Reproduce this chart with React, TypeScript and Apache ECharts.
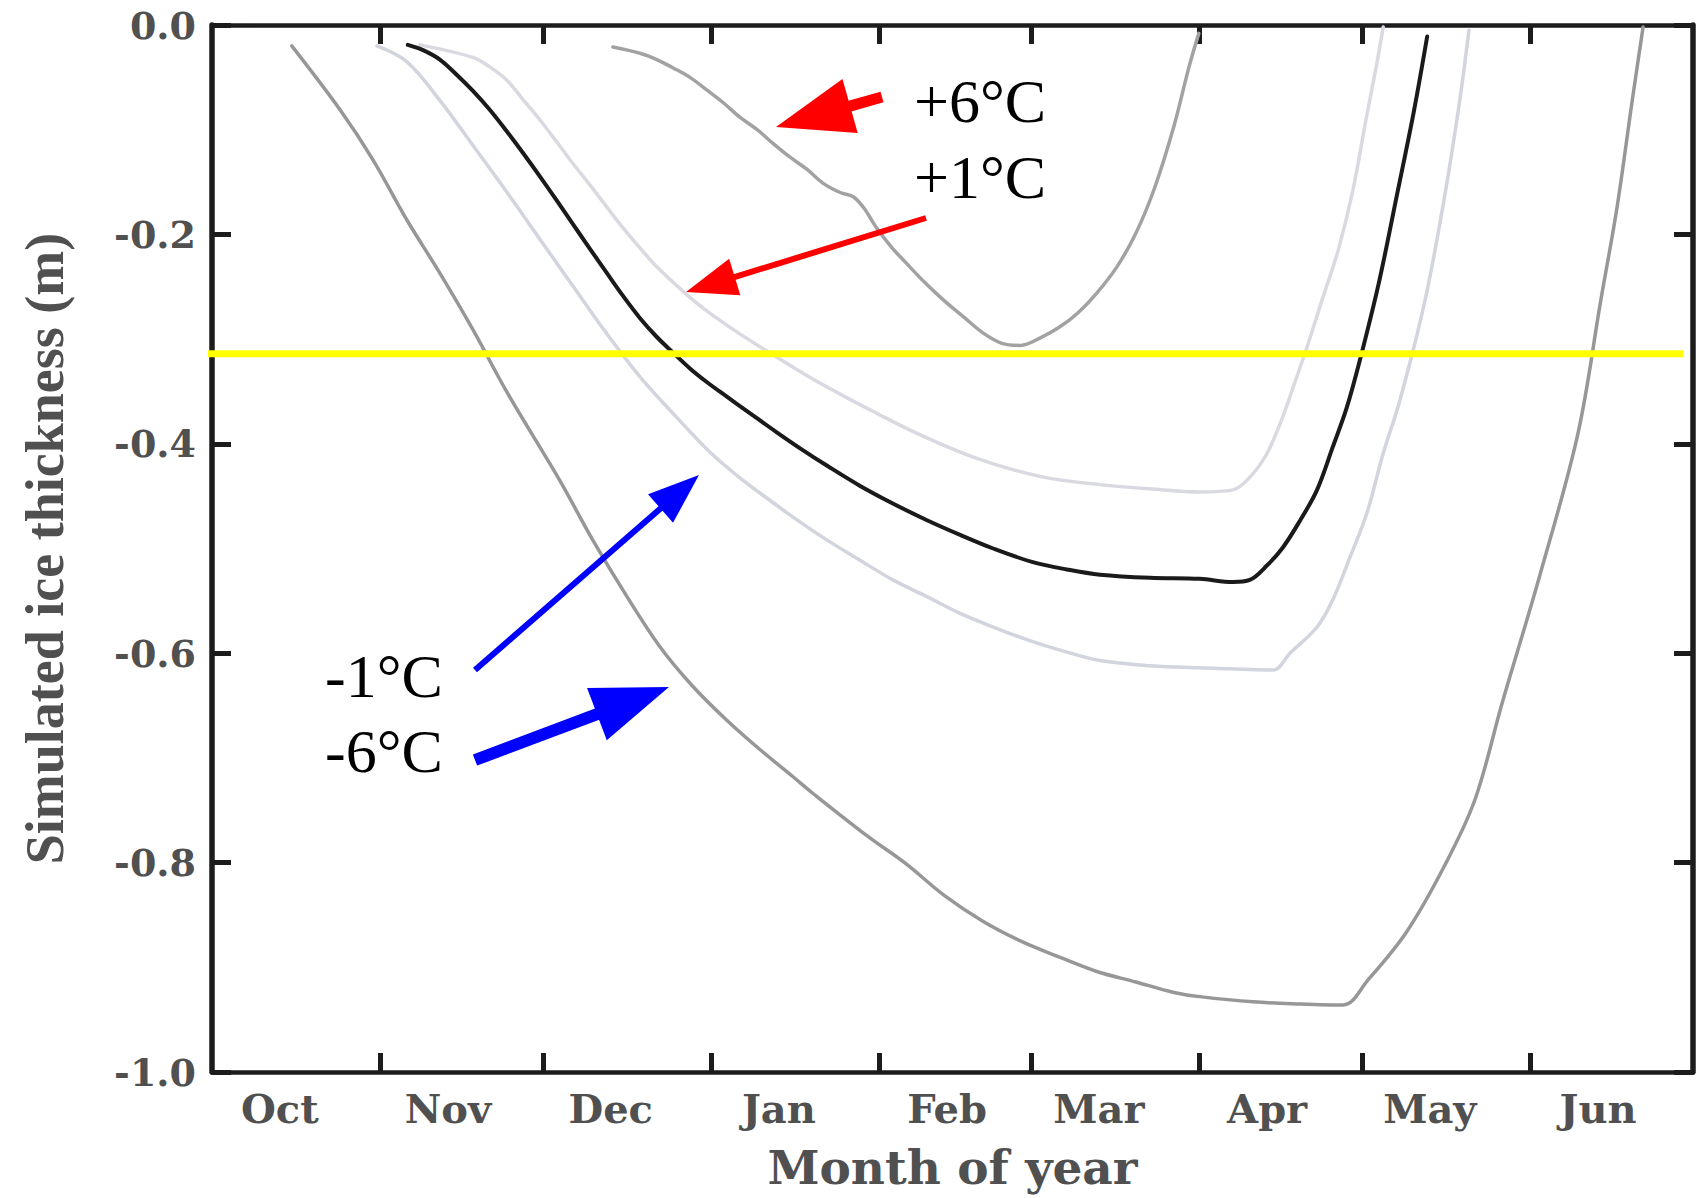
import React, { useEffect, useRef } from "react";
import * as echarts from "echarts";

// ---------- axis data ----------
const monthNames = ["Oct", "Nov", "Dec", "Jan", "Feb", "Mar", "Apr", "May", "Jun"];
const monthStartDays = [0, 31, 61, 92, 123, 151, 182, 212, 243];
const monthTickDays = monthStartDays.slice(1);
const monthLabelDays = monthStartDays.map((d) => d + 12.5);
const xMinDay = 0;
const xMaxDay = 273;
const yMin = -1.0;
const yMax = 0.0;
const yStep = 0.2;

// ---------- series data (day counted from 1 Oct, ice thickness in m) ----------
const minus6Days = [14.7, 23.6, 29.7, 35.9, 42.0, 48.1, 54.4, 64.1, 70.2, 76.5, 82.6, 88.7, 94.9, 101.0, 107.1, 110.8, 120.9, 127.9, 134.9, 142.1, 149.1, 156.1, 163.1, 170.3, 177.3, 182.1, 191.9, 200.6, 208.5, 213.1, 220.1, 227.1, 232.8, 237.8, 244.8, 251.8, 256.0, 259.0, 261.8, 263.8];
const minus6Ice = [-0.020, -0.081, -0.129, -0.186, -0.237, -0.291, -0.351, -0.435, -0.492, -0.546, -0.594, -0.632, -0.664, -0.692, -0.718, -0.734, -0.775, -0.801, -0.831, -0.856, -0.875, -0.890, -0.904, -0.914, -0.924, -0.928, -0.933, -0.935, -0.936, -0.912, -0.867, -0.804, -0.740, -0.648, -0.525, -0.390, -0.263, -0.174, -0.072, -0.002];

const minus1Days = [30.4, 35.9, 42.0, 48.1, 54.4, 60.5, 66.5, 72.8, 78.9, 85.7, 91.8, 97.9, 101.0, 107.1, 113.4, 119.4, 125.5, 131.8, 137.9, 144.0, 150.2, 156.3, 163.7, 172.9, 182.1, 195.6, 198.7, 203.7, 206.6, 209.8, 212.9, 215.9, 219.0, 223.6, 227.1, 230.0, 231.7];
const minus1Ice = [-0.020, -0.035, -0.072, -0.115, -0.160, -0.205, -0.249, -0.295, -0.336, -0.375, -0.408, -0.435, -0.447, -0.470, -0.492, -0.511, -0.530, -0.546, -0.562, -0.575, -0.587, -0.597, -0.607, -0.612, -0.614, -0.616, -0.600, -0.575, -0.549, -0.508, -0.466, -0.409, -0.358, -0.263, -0.167, -0.072, -0.005];

const controlDays = [36.1, 38.9, 42.0, 45.2, 48.1, 51.2, 54.4, 57.3, 60.5, 63.6, 66.5, 69.7, 72.8, 75.8, 78.9, 82.0, 85.0, 88.1, 91.2, 94.9, 99.2, 104.1, 108.9, 113.4, 119.4, 125.5, 131.8, 137.9, 144.0, 151.3, 157.6, 163.7, 172.9, 182.1, 188.2, 191.3, 194.5, 197.4, 200.6, 203.7, 206.6, 209.2, 211.6, 215.1, 218.6, 221.6, 224.0];
const controlIce = [-0.019, -0.024, -0.033, -0.048, -0.063, -0.081, -0.102, -0.122, -0.145, -0.168, -0.190, -0.214, -0.237, -0.259, -0.280, -0.298, -0.313, -0.328, -0.341, -0.355, -0.371, -0.389, -0.406, -0.421, -0.440, -0.457, -0.473, -0.487, -0.500, -0.513, -0.520, -0.525, -0.528, -0.529, -0.532, -0.530, -0.516, -0.499, -0.473, -0.444, -0.403, -0.365, -0.320, -0.246, -0.158, -0.081, -0.011];

const plus1Days = [38.3, 48.1, 51.2, 54.4, 57.3, 60.5, 63.6, 66.5, 69.7, 72.8, 75.8, 78.9, 82.0, 87.6, 91.2, 97.3, 103.4, 109.7, 116.3, 122.6, 128.7, 134.7, 141.0, 147.1, 154.5, 163.7, 172.9, 182.1, 188.2, 191.3, 194.5, 197.4, 199.3, 201.7, 204.6, 207.6, 210.3, 212.7, 214.6, 215.9];
const plus1Ice = [-0.019, -0.031, -0.040, -0.053, -0.071, -0.091, -0.112, -0.132, -0.153, -0.174, -0.194, -0.213, -0.231, -0.258, -0.273, -0.295, -0.315, -0.335, -0.354, -0.371, -0.387, -0.401, -0.414, -0.424, -0.433, -0.439, -0.443, -0.446, -0.444, -0.432, -0.409, -0.374, -0.346, -0.310, -0.263, -0.215, -0.158, -0.091, -0.040, -0.002];

const plus6Days = [73.9, 78.9, 82.0, 85.0, 88.1, 91.2, 94.2, 97.3, 100.5, 103.4, 106.5, 109.7, 112.6, 115.8, 118.2, 120.2, 122.4, 125.2, 127.9, 131.4, 134.9, 138.6, 142.1, 145.6, 149.1, 152.6, 156.1, 159.6, 163.1, 166.8, 170.3, 173.8, 177.3, 180.1, 181.9];
const plus6Ice = [-0.021, -0.027, -0.033, -0.041, -0.050, -0.062, -0.074, -0.088, -0.100, -0.113, -0.126, -0.138, -0.151, -0.160, -0.164, -0.175, -0.193, -0.212, -0.227, -0.246, -0.263, -0.279, -0.294, -0.304, -0.306, -0.299, -0.289, -0.275, -0.256, -0.231, -0.199, -0.155, -0.097, -0.040, -0.008];

// reference level (yellow line)
const yellowLevel = -0.314;
const yellowSpanDays = [-2.0, 271.3];

// ---------- annotations (pixel layout) ----------
const annotationTexts = [
  { text: "+6°C", x: 914, y: 101 },
  { text: "+1°C", x: 914, y: 177 },
  { text: "-1°C", x: 325, y: 676 },
  { text: "-6°C", x: 325, y: 751 },
];
const arrows = [
  { tail: [882, 97], tip: [776, 127], headLen: 77, headWidth: 56, shaft: 11, color: "#ff0000" },
  { tail: [926, 218], tip: [686, 292], headLen: 51, headWidth: 38, shaft: 6, color: "#ff0000" },
  { tail: [475, 670], tip: [699, 475], headLen: 51, headWidth: 38, shaft: 6, color: "#0000ff" },
  { tail: [475, 760], tip: [669, 687], headLen: 77, headWidth: 56, shaft: 12, color: "#0000ff" },
];

const pairs = (days: number[], ice: number[]) => days.map((d, i) => [d, ice[i]]);

function arrowElements(a: any) {
  const dx = a.tip[0] - a.tail[0];
  const dy = a.tip[1] - a.tail[1];
  const len = Math.hypot(dx, dy);
  const ux = dx / len;
  const uy = dy / len;
  const bx = a.tip[0] - ux * a.headLen;
  const by = a.tip[1] - uy * a.headLen;
  const px = -uy;
  const py = ux;
  const hw = a.headWidth / 2;
  return [
    {
      type: "line",
      z: 100,
      shape: { x1: a.tail[0], y1: a.tail[1], x2: bx + ux * 3, y2: by + uy * 3 },
      style: { stroke: a.color, lineWidth: a.shaft },
    },
    {
      type: "polygon",
      z: 100,
      shape: {
        points: [
          [a.tip[0], a.tip[1]],
          [bx + px * hw, by + py * hw],
          [bx - px * hw, by - py * hw],
        ],
      },
      style: { fill: a.color },
    },
  ];
}

const frameColor = "#1c1c1c";
const labelColor = "#505050";

export default function App() {
  const ref = useRef<HTMLDivElement>(null);

  useEffect(() => {
    document.body.style.margin = "0";
    document.body.style.overflow = "hidden";
    if (!ref.current) return;
    const chart = echarts.init(ref.current, null, { renderer: "svg" });

    const lineSeries = (name: string, data: number[][], color: string, width: number, z: number) => ({
      type: "line",
      name,
      data,
      symbol: "none",
      showSymbol: false,
      smooth: 0.35,
      lineStyle: { color, width, join: "round", cap: "round" },
      z,
      silent: true,
    });

    const xCommon = {
      type: "value",
      min: xMinDay,
      max: xMaxDay,
      splitLine: { show: false },
      axisLine: { show: true, onZero: false, lineStyle: { color: frameColor, width: 4.5 } },
      axisTick: {
        show: true,
        inside: true,
        length: 19,
        customValues: monthTickDays,
        lineStyle: { color: frameColor, width: 5 },
      },
    };
    const yCommon = {
      type: "value",
      min: yMin,
      max: yMax,
      interval: yStep,
      splitLine: { show: false },
      axisLine: { show: true, onZero: false, lineStyle: { color: frameColor, width: 5.5 } },
      axisTick: { show: true, inside: true, length: 19, lineStyle: { color: frameColor, width: 5 } },
    };

    const option: any = {
      animation: false,
      backgroundColor: "#ffffff",
      grid: {
        left: 212,
        right: 6,
        top: 25,
        bottom: 126,
        containLabel: false,
        outerBoundsMode: "none",
      },
      xAxis: [
        {
          ...xCommon,
          position: "bottom",
          axisLabel: {
            show: true,
            customValues: monthLabelDays,
            formatter: (v: number) => {
              const i = monthLabelDays.findIndex((d) => Math.abs(d - v) < 0.01);
              return i >= 0 ? monthNames[i] : "";
            },
            margin: 16,
            color: labelColor,
            fontFamily: "DejaVu Serif",
            fontWeight: "bold",
            fontSize: 40,
          },
          name: "Month of year",
          nameLocation: "middle",
          nameGap: 72,
          nameTextStyle: {
            color: labelColor,
            fontFamily: "DejaVu Serif",
            fontWeight: "bold",
            fontSize: 47,
          },
        },
        {
          ...xCommon,
          position: "top",
          axisLabel: { show: false },
        },
      ],
      yAxis: [
        {
          ...yCommon,
          position: "left",
          axisLabel: {
            show: true,
            formatter: (v: number) => v.toFixed(1),
            margin: 16,
            color: labelColor,
            fontFamily: "DejaVu Serif",
            fontWeight: "bold",
            fontSize: 38,
          },
          name: "Simulated ice thickness (m)",
          nameLocation: "middle",
          nameGap: 140,
          nameTextStyle: {
            color: labelColor,
            fontFamily: "Liberation Serif",
            fontWeight: "bold",
            fontSize: 54,
          },
        },
        {
          ...yCommon,
          position: "right",
          axisLabel: { show: false },
        },
      ],
      series: [
        lineSeries("-1°C", pairs(minus1Days, minus1Ice), "#d2d4de", 3.5, 2),
        lineSeries("+1°C", pairs(plus1Days, plus1Ice), "#d9dae1", 3.5, 2),
        lineSeries("-6°C", pairs(minus6Days, minus6Ice), "#979797", 3.5, 3),
        lineSeries("+6°C", pairs(plus6Days, plus6Ice), "#a2a2a2", 3.5, 3),
        lineSeries("0°C", pairs(controlDays, controlIce), "#1a1a1a", 4, 4),
        {
          type: "line",
          name: "level",
          data: yellowSpanDays.map((d) => [d, yellowLevel]),
          symbol: "none",
          showSymbol: false,
          clip: false,
          lineStyle: { color: "#ffff00", width: 7 },
          z: 10,
          silent: true,
        },
      ],
      graphic: [
        ...arrows.flatMap((a) => arrowElements(a)),
        ...annotationTexts.map((t) => ({
          type: "text",
          z: 101,
          x: t.x,
          y: t.y,
          style: {
            text: t.text,
            fill: "#000000",
            font: '62px "Liberation Serif"',
            fontSize: 62,
            fontFamily: "Liberation Serif",
            verticalAlign: "middle",
            textVerticalAlign: "middle",
            align: "left",
            textAlign: "left",
          },
        })),
      ],
    };

    chart.setOption(option);
    return () => {
      chart.dispose();
    };
  }, []);

  return (
    <div
      ref={ref}
      style={{ position: "absolute", left: 0, top: 0, width: 1699, height: 1198, background: "#fff" }}
    />
  );
}
